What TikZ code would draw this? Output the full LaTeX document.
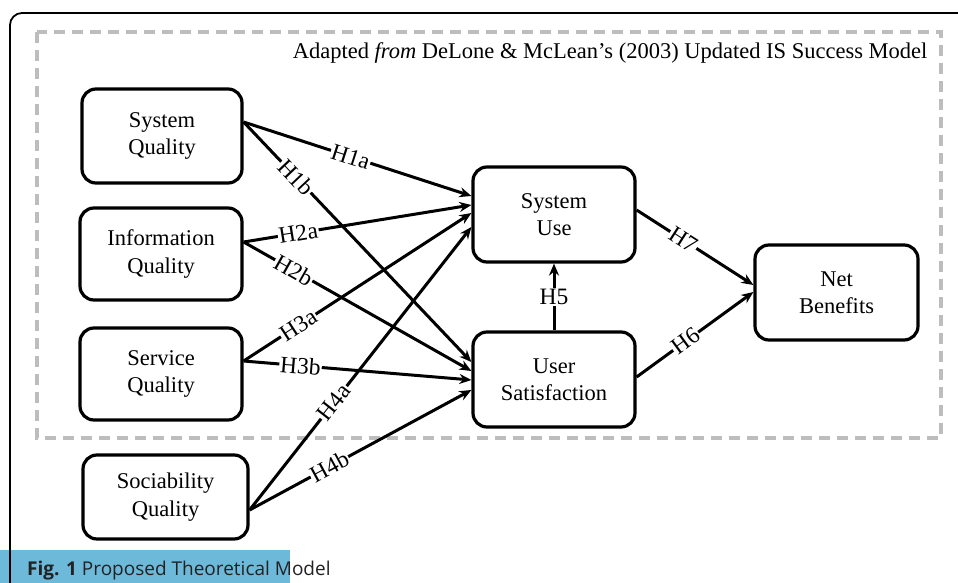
\documentclass[tikz,border=0pt]{standalone}
\usepackage{fontspec}
\setmainfont{Liberation Serif}
\newfontfamily\capfont{Open Sans}
\usetikzlibrary{arrows.meta}
\definecolor{capblue}{HTML}{6CB9DA}
\definecolor{dashgray}{HTML}{BDBDBD}
\definecolor{captext}{HTML}{222222}
\tikzset{
  box/.style={draw=black, line width=3.2pt, rounded corners=14pt, fill=white,
    align=center, font=\fontsize{22.5}{27.5}\selectfont, inner sep=0pt},
  link/.style={line width=3pt, -{Stealth[length=12pt,width=10pt]}},
  hyp/.style={fill=white, inner sep=1pt, sloped, font=\fontsize{23.5}{25}\selectfont},
}
\begin{document}
\begin{tikzpicture}[x=1pt,y=-1pt]
\useasboundingbox (0,0) rectangle (958,583);
% caption bar
\fill[capblue] (0,550) rectangle (290,583);
% outer frame
\draw[line width=1.8pt, rounded corners=12pt] (10,590) -- (10,13) -- (970,13);
% dashed frame
\draw[dashgray, line width=3.5pt, dash pattern=on 11pt off 7pt] (37,32) rectangle (941,438);
\node[anchor=base east, font=\fontsize{22.5}{26}\selectfont] (title) at (931,59)
  {Adapted \textit{from} DeLone \& McLean's (2003) Updated IS Success Model};
% boxes
\node[box, minimum width=160pt, minimum height=94pt] (sq) at (162,136) {System\\Quality};
\node[box, minimum width=162pt, minimum height=92pt] (iq) at (161,254) {Information\\Quality};
\node[box, minimum width=162pt, minimum height=92pt] (svq) at (161,374) {Service\\Quality};
\node[box, minimum width=165pt, minimum height=84pt] (soq) at (165.5,497) {Sociability\\Quality};
\node[box, minimum width=162pt, minimum height=95pt] (su) at (554,214.5) {System\\Use};
\node[box, minimum width=162pt, minimum height=95pt] (us) at (554,379.5) {User\\Satisfaction};
\node[box, minimum width=163pt, minimum height=95pt] (nb) at (836.5,292.5) {Net\\Benefits};
% connectors
\draw[link] ([yshift=14pt]sq.east) -- node[hyp, pos=0.47] {H1a} ([yshift=18.5pt]su.west);
\draw[link] ([yshift=14pt]sq.east) -- node[hyp, pos=0.23] {H1b} ([yshift=17.5pt]us.west);
\draw[link] ([yshift=12pt]iq.east) -- node[hyp, pos=0.24] {H2a} ([yshift=9.5pt]su.west);
\draw[link] ([yshift=12pt]iq.east) -- node[hyp, pos=0.22] {H2b} ([yshift=8.5pt]us.west);
\draw[link] ([yshift=13pt]svq.east) -- node[hyp, pos=0.24] {H3a} ([yshift=1.5pt]su.west);
\draw[link] ([yshift=13pt]svq.east) -- node[hyp, pos=0.25] {H3b} ([yshift=-0.5pt]us.west);
\draw[link] ([yshift=-13pt]soq.east) -- node[hyp, pos=0.38] {H4a} ([yshift=-12.5pt]su.west);
\draw[link] ([yshift=-13pt]soq.east) -- node[hyp, pos=0.36] {H4b} ([yshift=-10.5pt]us.west);
\draw[link] (us.north) -- node[hyp, pos=0.5, sloped=false] {H5} (su.south);
\draw[link] ([yshift=2.5pt]us.east) -- node[hyp, pos=0.42] {H6} ([yshift=0.5pt]nb.west);
\draw[link] ([yshift=4.5pt]su.east) -- node[hyp, pos=0.4] {H7} ([yshift=7.5pt]nb.west);
% caption
\node[anchor=base west, text=captext, font=\capfont\fontsize{19}{21}\selectfont, inner sep=0pt] (cap) at (27,575)
  {\textbf{Fig. 1} Proposed Theoretical Model};
\end{tikzpicture}
\end{document}
